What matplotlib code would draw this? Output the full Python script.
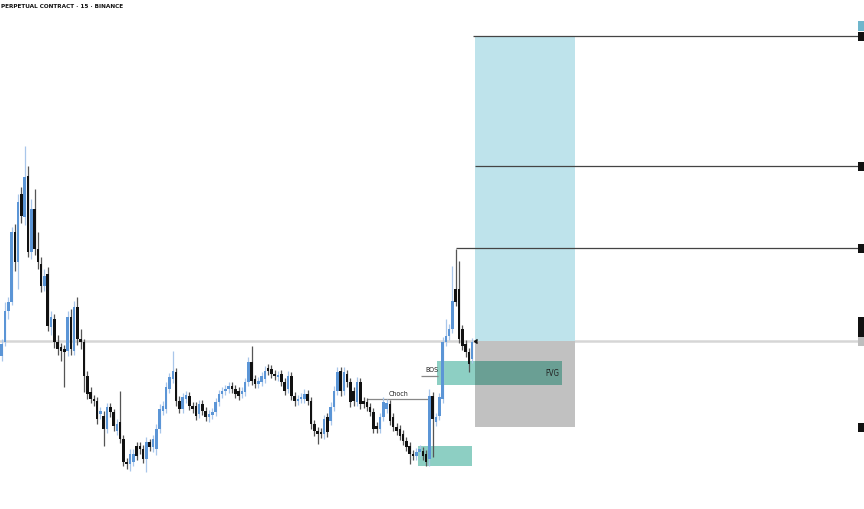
import matplotlib
matplotlib.use('Agg')

import matplotlib.pyplot as plt
from matplotlib.patches import Rectangle
import numpy as np

# OHLC (arbitrary price units, 1 unit ~ 1 px)
opens = [153, 167, 198, 207, 277, 247, 315, 292, 333, 257, 300, 260,
         245, 223, 235, 182, 190, 167, 162, 160, 158, 192, 158, 202,
         170, 167, 133, 117, 110, 108, 95, 93, 80, 102, 97, 78,
         87, 70, 47, 45, 47, 63, 63, 60, 50, 67, 62, 60,
         80, 98, 100, 120, 130, 137, 108, 100, 110, 113, 103, 103,
         95, 105, 98, 92, 94, 97, 107, 115, 118, 120, 123, 120,
         118, 115, 117, 127, 147, 130, 125, 127, 130, 141, 140, 135,
         132, 135, 127, 120, 133, 113, 108, 110, 110, 115, 108, 85,
         78, 77, 75, 92, 88, 102, 118, 138, 118, 135, 127, 118,
         107, 127, 108, 107, 102, 97, 83, 80, 92, 100, 105, 92,
         82, 80, 75, 68, 63, 55, 53, 57, 58, 55, 50, 113,
         87, 93, 110, 167, 173, 180, 220, 220, 180, 165, 157, 150]
highs = [170, 207, 212, 282, 285, 315, 322, 363, 343, 310, 320, 277,
         252, 240, 242, 198, 195, 174, 166, 164, 198, 200, 208, 212,
         180, 170, 138, 122, 114, 112, 102, 98, 106, 106, 100, 90,
         118, 74, 51, 60, 60, 67, 67, 64, 72, 70, 74, 85,
         105, 108, 127, 136, 158, 141, 113, 116, 118, 117, 107, 107,
         109, 109, 102, 99, 101, 111, 119, 122, 124, 127, 127, 124,
         122, 122, 131, 152, 163, 134, 132, 137, 143, 145, 144, 139,
         138, 139, 131, 138, 137, 117, 114, 116, 120, 119, 112, 89,
         82, 81, 94, 96, 107, 123, 142, 142, 142, 139, 131, 122,
         132, 131, 112, 111, 106, 101, 87, 96, 112, 110, 109, 96,
         86, 84, 79, 72, 67, 59, 61, 64, 62, 59, 120, 117,
         96, 116, 172, 190, 185, 243, 260, 248, 184, 169, 161, 171]
lows = [148, 163, 190, 204, 238, 220, 286, 284, 252, 250, 254, 240,
        217, 218, 178, 174, 161, 154, 148, 122, 153, 154, 154, 164,
        160, 117, 110, 106, 103, 85, 90, 63, 76, 92, 78, 74,
        66, 43, 40, 38, 43, 49, 55, 46, 37, 58, 57, 54,
        76, 94, 96, 116, 126, 103, 96, 96, 106, 99, 96, 89,
        91, 94, 88, 87, 90, 93, 103, 111, 114, 116, 116, 111,
        109, 111, 113, 123, 124, 121, 121, 123, 126, 134, 131, 129,
        128, 123, 114, 116, 109, 103, 104, 106, 106, 104, 80, 73,
        65, 71, 70, 72, 84, 98, 114, 113, 114, 122, 102, 103,
        103, 100, 101, 98, 93, 76, 76, 76, 88, 96, 84, 78,
        74, 69, 64, 58, 45, 49, 49, 53, 49, 43, 43, 52,
        83, 89, 106, 163, 169, 176, 203, 166, 159, 152, 137, 146]
closes = [165, 198, 207, 277, 247, 307, 293, 332, 257, 300, 260, 247,
          223, 233, 183, 192, 167, 160, 158, 157, 192, 160, 202, 170,
          167, 133, 115, 110, 108, 90, 98, 80, 102, 97, 83, 85,
          70, 47, 45, 55, 55, 53, 60, 50, 67, 62, 70, 80,
          100, 103, 122, 132, 138, 108, 100, 112, 114, 103, 100, 93,
          105, 98, 92, 95, 97, 107, 115, 118, 120, 123, 120, 115,
          113, 118, 127, 147, 128, 125, 128, 133, 138, 138, 135, 133,
          134, 127, 118, 133, 113, 108, 110, 112, 115, 108, 85, 78,
          75, 75, 90, 77, 102, 118, 137, 118, 137, 127, 107, 108,
          127, 105, 105, 102, 97, 80, 80, 92, 107, 106, 88, 82,
          78, 73, 68, 62, 55, 53, 57, 60, 53, 47, 113, 90,
          92, 112, 167, 173, 180, 208, 207, 170, 163, 157, 145, 167]

# long position tool levels
target_levels = [473, 343, 261]
entry_price = 168
stop_price = 82
fvg_top, fvg_bottom = 148, 124
ob_top, ob_bottom = 63, 43
bos_price = 133.5
choch_price = 110

title = "PERPETUAL CONTRACT \u00b7 15 \u00b7 BINANCE"

up_body = '#5b95d6'
up_wick = '#a8c6ea'
down_body = '#111111'
down_wick = '#555555'

fig = plt.figure(figsize=(8.64, 5.10), dpi=100)
ax = fig.add_axes([0, 0, 1, 1])
ax.set_xlim(-0.52, 262.1)
ax.set_ylim(0, 510)
ax.axis('off')

o = np.array(opens)
h = np.array(highs)
l = np.array(lows)
c = np.array(closes)
x = np.arange(len(o))
up = c >= o

# current price line
ax.axhline(entry_price, color='#d6d6d6', lw=1.8, zorder=1)

# position tool boxes
ax.add_patch(Rectangle((143.86, entry_price), 30.4, target_levels[0] - entry_price,
                       facecolor='#bee3eb', edgecolor='none', zorder=2))
ax.add_patch(Rectangle((143.86, stop_price), 30.4, entry_price - stop_price,
                       facecolor='#c1c1c1', edgecolor='none', zorder=2))

# target lines
ax.hlines(target_levels[0], 143.25, 260.3, color='#444444', lw=0.9, zorder=3)
ax.hlines(target_levels[1], 143.86, 260.3, color='#444444', lw=0.9, zorder=3)
ax.hlines(target_levels[2], 138.1, 260.3, color='#444444', lw=0.9, zorder=3)

# FVG and demand zone
ax.add_patch(Rectangle((132.3, fvg_bottom), 143.86 - 132.3, fvg_top - fvg_bottom,
                       facecolor='#8dcfc3', edgecolor='none', zorder=2))
ax.add_patch(Rectangle((143.86, fvg_bottom), 170.3 - 143.86, fvg_top - fvg_bottom,
                       facecolor='#6a9f94', edgecolor='none', zorder=3))
ax.text(169.6, (fvg_top + fvg_bottom) / 2, 'FVG', ha='right', va='center',
        fontsize=5.5, color='#222222', zorder=6, fontstretch='condensed')
ax.add_patch(Rectangle((126.5, ob_bottom), 142.95 - 126.5, ob_top - ob_bottom,
                       facecolor='#8dcfc3', edgecolor='none', zorder=2))

# structure labels
ax.hlines(bos_price, 127.5, 132.6, color='#888888', lw=0.9, zorder=3)
ax.text(130.8, bos_price + 3, 'BOS', ha='center', va='bottom', fontsize=5,
        color='#222222', zorder=6, fontstretch='condensed')
ax.hlines(choch_price, 111, 130.8, color='#888888', lw=0.9, zorder=3)
ax.text(120.6, choch_price + 3, 'Choch', ha='center', va='bottom', fontsize=5,
        color='#222222', zorder=6, fontstretch='condensed')

# candles
ax.vlines(x[up], l[up], h[up], color=up_wick, lw=0.9, zorder=4)
ax.vlines(x[~up], l[~up], h[~up], color=down_wick, lw=0.9, zorder=4)
body_h = np.maximum(np.abs(c - o), 1.5)
ax.bar(x[up], body_h[up], bottom=np.minimum(o, c)[up], width=0.78,
       color=up_body, zorder=5)
ax.bar(x[~up], body_h[~up], bottom=np.minimum(o, c)[~up], width=0.78,
       color=down_body, zorder=5)

# entry marker
ax.plot([143.5], [entry_price], marker=4, color='#111111', ms=3, zorder=6)

# cropped price-axis labels on the right edge
for lvl, hgt in [(target_levels[0], 9), (target_levels[1], 9),
                 (target_levels[2], 9), (stop_price, 9)]:
    ax.add_patch(Rectangle((260.4, lvl - hgt / 2), 2, hgt, facecolor='#111111',
                           edgecolor='none', zorder=7, clip_on=False))
ax.add_patch(Rectangle((260.4, 478), 2, 10, facecolor='#6fb6cc',
                       edgecolor='none', zorder=7))
ax.add_patch(Rectangle((260.4, 172), 2, 20, facecolor='#111111',
                       edgecolor='none', zorder=7))
ax.add_patch(Rectangle((260.4, 163), 2, 9, facecolor='#bdbdbd',
                       edgecolor='none', zorder=7))

fig.text(0.001, 0.993, title, ha='left', va='top', fontsize=4.6,
         fontweight='bold', fontstretch='condensed', color='#111111',
         family=['DejaVu Sans'])

fig.savefig('out.png', dpi=100)
